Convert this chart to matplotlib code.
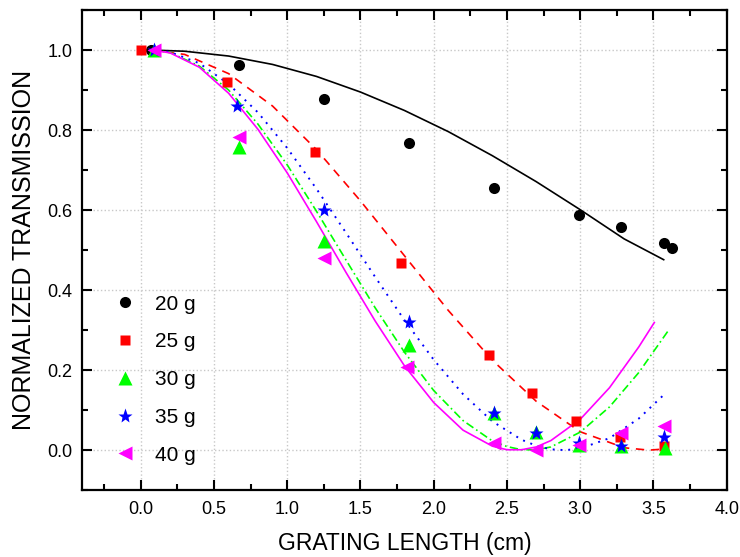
import matplotlib
matplotlib.use("Agg")
import matplotlib.pyplot as plt
from matplotlib.ticker import MultipleLocator

plt.rcParams['font.family'] = ['Liberation Sans', 'DejaVu Sans']

# measured points (grating length in cm, normalized transmission)
x_20 = [0.07, 0.67, 1.25, 1.83, 2.41, 2.99, 3.28, 3.57, 3.63]
y_20 = [1.0, 0.962, 0.877, 0.767, 0.656, 0.588, 0.558, 0.517, 0.505]

x_25 = [0.0, 0.59, 1.19, 1.78, 2.38, 2.67, 2.97, 3.27, 3.57]
y_25 = [1.0, 0.921, 0.746, 0.468, 0.238, 0.143, 0.072, 0.033, 0.01]

x_30 = [0.09, 0.67, 1.25, 1.83, 2.41, 2.70, 2.99, 3.28, 3.58]
y_30 = [1.0, 0.757, 0.522, 0.262, 0.092, 0.045, 0.012, 0.01, 0.006]

x_35 = [0.09, 0.66, 1.25, 1.83, 2.41, 2.70, 2.99, 3.28, 3.57]
y_35 = [1.0, 0.86, 0.60, 0.32, 0.093, 0.044, 0.018, 0.01, 0.032]

x_40 = [0.09, 0.67, 1.25, 1.82, 2.41, 2.70, 2.99, 3.28, 3.57]
y_40 = [1.0, 0.782, 0.481, 0.208, 0.018, 0.0, 0.014, 0.042, 0.061]

# fitted curves
fx_20 = [0.07, 0.3, 0.6, 0.9, 1.2, 1.5, 1.8, 2.1, 2.4, 2.7, 3.0, 3.3, 3.57]
fy_20 = [1.0, 0.997, 0.985, 0.964, 0.934, 0.895, 0.849, 0.796, 0.736, 0.671, 0.601, 0.528, 0.476]

fx_25 = [0.07, 0.3, 0.6, 0.9, 1.2, 1.5, 1.8, 2.1, 2.4, 2.7, 3.0, 3.3, 3.47, 3.58]
fy_25 = [1.0, 0.989, 0.941, 0.860, 0.751, 0.623, 0.486, 0.349, 0.225, 0.122, 0.046, 0.006, 0.0, 0.003]

fx_30 = [0.07, 0.2, 0.4, 0.6, 0.8, 1.0, 1.2, 1.4, 1.6, 1.8, 2.0, 2.2, 2.4, 2.5, 2.6,
         2.7, 2.8, 3.0, 3.2, 3.4, 3.6]
fy_30 = [1.0, 0.994, 0.960, 0.900, 0.815, 0.713, 0.597, 0.476, 0.356, 0.245, 0.149,
         0.074, 0.023, 0.009, 0.001, 0.001, 0.008, 0.045, 0.108, 0.194, 0.298]

fx_35 = [0.07, 0.2, 0.4, 0.6, 0.8, 1.0, 1.2, 1.4, 1.6, 1.8, 2.0, 2.2, 2.4, 2.6,
         2.7, 2.8, 2.9, 3.0, 3.2, 3.4, 3.57]
fy_35 = [1.0, 0.995, 0.967, 0.915, 0.844, 0.755, 0.653, 0.544, 0.433, 0.325, 0.226,
         0.140, 0.072, 0.026, 0.011, 0.002, 0.0, 0.004, 0.030, 0.079, 0.138]

fx_40 = [0.07, 0.2, 0.4, 0.6, 0.8, 1.0, 1.2, 1.4, 1.6, 1.8, 2.0, 2.2, 2.4, 2.5, 2.6,
         2.7, 2.8, 3.0, 3.2, 3.4, 3.506]
fy_40 = [1.0, 0.993, 0.957, 0.892, 0.802, 0.693, 0.571, 0.445, 0.323, 0.211, 0.119,
         0.050, 0.010, 0.001, 0.001, 0.008, 0.024, 0.077, 0.156, 0.258, 0.319]

fig = plt.figure(figsize=(7.4, 5.57), dpi=100)
ax = fig.add_axes([0.111, 0.12, 0.871, 0.862])

ax.plot(fx_20, fy_20, color='black', lw=1.2, ls='-')
ax.plot(fx_25, fy_25, color='red', lw=1.2, ls=(0, (5, 4)))
ax.plot(fx_30, fy_30, color='#00ff00', lw=1.2, ls=(0, (5, 2, 1, 2)))
ax.plot(fx_35, fy_35, color='blue', lw=1.4, ls=(0, (1, 3)))
ax.plot(fx_40, fy_40, color='magenta', lw=1.2, ls='-')

ax.plot(x_20, y_20, 'o', color='black', ms=8, mec='none', label='20 g', zorder=3)
ax.plot(x_25, y_25, 's', color='red', ms=7.5, mec='none', label='25 g', zorder=3)
ax.plot(x_30, y_30, '^', color='#00ff00', ms=9.5, mec='none', label='30 g', zorder=3)
ax.plot(x_35, y_35, '*', color='blue', ms=11, mec='none', label='35 g', zorder=4)
ax.plot(x_40, y_40, '<', color='magenta', ms=9.5, mec='none', label='40 g', zorder=5)

ax.set_xlim(-0.4, 4.0)
ax.set_ylim(-0.1, 1.1)
ax.xaxis.set_major_locator(MultipleLocator(0.5))
ax.xaxis.set_minor_locator(MultipleLocator(0.25))
ax.yaxis.set_major_locator(MultipleLocator(0.2))
ax.yaxis.set_minor_locator(MultipleLocator(0.1))
ax.tick_params(which='both', direction='in', top=True, right=True, width=1.5,
               labelsize=13)
ax.tick_params(which='major', length=7)
ax.tick_params(which='minor', length=4)
ax.tick_params(axis='x', pad=8)
ax.tick_params(axis='y', pad=7)
for s in ax.spines.values():
    s.set_linewidth(1.6)

ax.grid(True, which='major', color='#c8c8c8', ls=':', lw=1)
ax.set_axisbelow(True)

ax.set_xlabel('GRATING LENGTH (cm)', fontsize=16.5, labelpad=10)
ax.set_ylabel('NORMALIZED TRANSMISSION', fontsize=18, labelpad=8)

ax.legend(loc='center left', bbox_to_anchor=(0.025, 0.23), frameon=False,
          fontsize=15, handletextpad=0.8, labelspacing=0.9, borderpad=0.2,
          handlelength=1.2)

fig.savefig('out.png', dpi=100)
